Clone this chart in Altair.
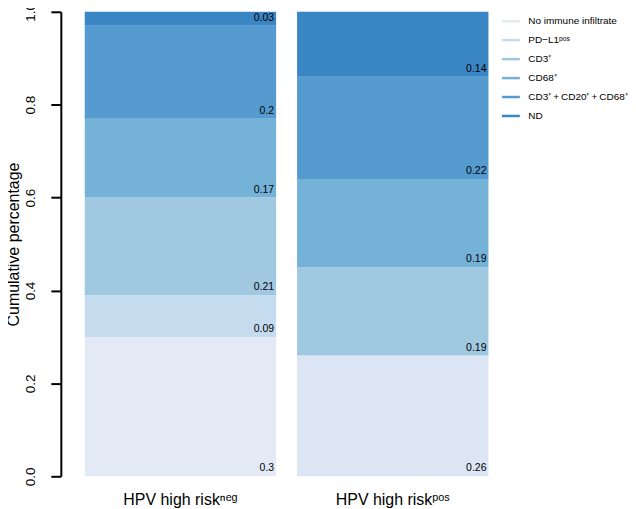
import altair as alt
import pandas as pd

groups = ["HPV high riskⁿᵉᵍ", "HPV high riskᵖᵒˢ"]
categories = ["No immune infiltrate", "PD−L1ᵖᵒˢ", "CD3⁺", "CD68⁺",
              "CD3⁺\u2009+\u2009CD20⁺\u2009+\u2009CD68⁺", "ND"]
colors = ["#e3eaf6", "#c5dbee", "#a0c8e0", "#74b2d8", "#559bd0", "#3a85c3"]
neg_values = [0.30, 0.09, 0.21, 0.17, 0.20, 0.03]
pos_values = [0.26, 0.00, 0.19, 0.19, 0.22, 0.14]
pos_base_key = "No immune infiltrate\u200b"
pos_base_color = "#dbe5f3"
y_ticks = [0.0, 0.2, 0.4, 0.6, 0.8, 1.0]

rows = []
for g, vals in zip(groups, [neg_values, pos_values]):
    cum = 0.0
    for i, (cat, v) in enumerate(zip(categories, vals)):
        key = cat
        if g == groups[1] and i == 0:
            key = pos_base_key
        if v > 0:
            rows.append({"group": g, "cat": cat, "key": key, "legend_key": key,
                         "value": v, "start": cum, "end": cum + v, "label": f"{v:g}"})
        cum += v
df = pd.DataFrame(rows)

dom = categories + [pos_base_key]
rng = colors + [pos_base_color]

font = "Liberation Sans"

x_enc = alt.X("group:N", sort=groups,
              scale=alt.Scale(paddingInner=0.0986, paddingOuter=0),
              axis=alt.Axis(title=None, domain=False, ticks=False, labelAngle=0,
                            labelFontSize=16, labelPadding=15, labelFont=font,
                            labelColor="black"))

y_scale = alt.Scale(domain=[0, 1], nice=False)

bars = alt.Chart(df).mark_bar(strokeWidth=0).encode(
    x=x_enc,
    y=alt.Y("start:Q", scale=y_scale,
            axis=alt.Axis(values=y_ticks, format=".1f", offset=24, grid=False,
                          domainColor="black", domainWidth=2, tickColor="black",
                          tickWidth=2, tickSize=10, labelAngle=270, labelAlign="center",
                          labelBaseline="bottom", labelPadding=13, labelFontSize=13.5,
                          labelFont=font, labelColor="black",
                          title="Cumulative percentage", titleFontSize=16,
                          titleFontWeight="normal", titleFont=font, titleColor="black",
                          titlePadding=2)),
    y2="end:Q",
    fill=alt.Fill("key:N", scale=alt.Scale(domain=dom, range=rng), legend=None),
)

legend_layer = alt.Chart(df).mark_rule(strokeWidth=2.5, strokeCap="butt").encode(
    x=alt.X("group:N", sort=groups),
    y=alt.Y("start:Q", scale=y_scale),
    y2=alt.Y2("start:Q"),
    stroke=alt.Stroke("legend_key:N", scale=alt.Scale(domain=dom, range=rng),
                      legend=alt.Legend(title=None, orient="none", legendX=417, legendY=-1,
                                        symbolType="stroke", symbolSize=324,
                                        symbolStrokeWidth=2.5, symbolOpacity=1,
                                        labelFontSize=10, labelFont=font,
                                        labelColor="black", rowPadding=3, padding=0,
                                        labelLimit=300, labelOffset=7,
                                        values=categories)),
)

labels = alt.Chart(df).mark_text(align="right", baseline="bottom", dx=-2, dy=-3,
                                  fontSize=10.5, font=font, color="black").encode(
    x=alt.X("group:N", sort=groups, bandPosition=1),
    y=alt.Y("start:Q", scale=y_scale),
    text="label:N",
)

chart = alt.layer(bars, legend_layer, labels).resolve_legend(
    fill="independent", stroke="independent"
).properties(
    width=405, height=466,
    autosize=alt.AutoSizeParams(type="none"),
    padding={"left": 77, "top": 3, "right": 140, "bottom": 32},
).configure_view(strokeWidth=0)

chart.save("out.html", embed_options={"renderer": "svg", "actions": False})
